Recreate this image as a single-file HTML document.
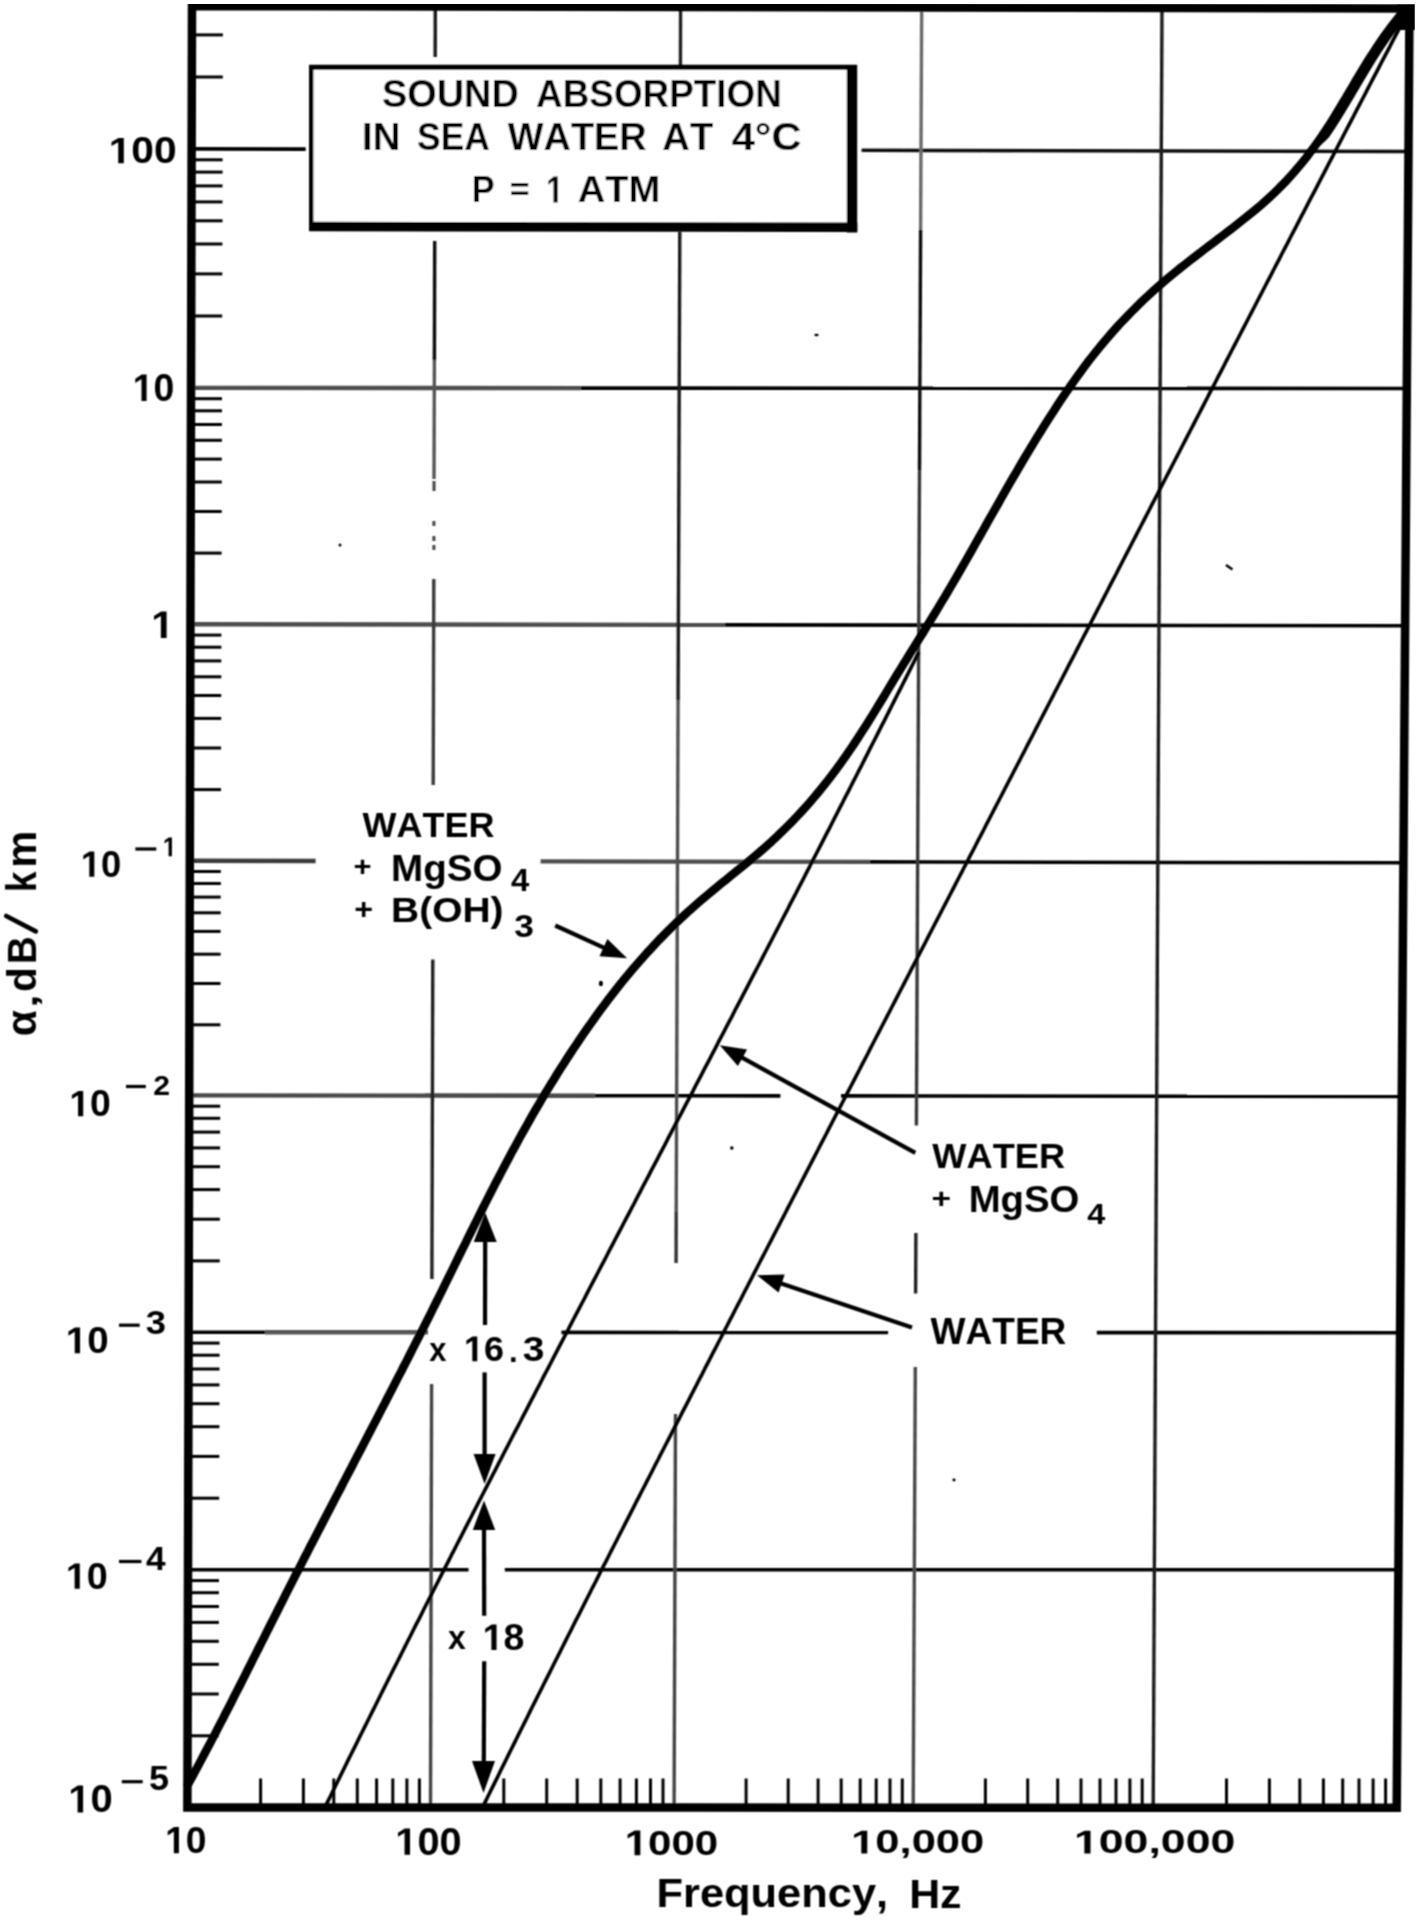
<!DOCTYPE html>
<html><head><meta charset="utf-8"><title>Sound absorption in sea water</title>
<style>html,body{margin:0;padding:0;background:#fff;overflow:hidden}svg{display:block}text{font-family:"Liberation Sans",sans-serif;font-kerning:none}</style>
</head><body>
<svg xmlns="http://www.w3.org/2000/svg" width="1418" height="1920" viewBox="0 0 1418 1920">
<defs><filter id="b" x="0" y="0" width="1" height="1"><feConvolveMatrix order="3" kernelMatrix="1 2 1 2 4 2 1 2 1" divisor="16" edgeMode="none"/></filter></defs>
<rect width="1418" height="1920" fill="#fff"/>
<g filter="url(#b)">
<line x1="191.6" y1="148.9" x2="305.7" y2="149.1" stroke="#000" stroke-width="3.6" stroke-linecap="butt"/>
<line x1="861.6" y1="150.3" x2="1408.5" y2="151.5" stroke="#111" stroke-width="3.6" stroke-linecap="butt"/>
<line x1="191.0" y1="387.9" x2="581.0" y2="388.1" stroke="#4e4e4e" stroke-width="4.4" stroke-linecap="butt"/>
<line x1="581.0" y1="388.1" x2="1406.8" y2="388.5" stroke="#000" stroke-width="3.6" stroke-linecap="butt"/>
<line x1="190.4" y1="624.3" x2="725.0" y2="624.9" stroke="#4e4e4e" stroke-width="4.4" stroke-linecap="butt"/>
<line x1="725.0" y1="624.9" x2="1405.1" y2="625.7" stroke="#000" stroke-width="3.6" stroke-linecap="butt"/>
<line x1="189.8" y1="860.8" x2="315.6" y2="861.0" stroke="#3a3a3a" stroke-width="4.4" stroke-linecap="butt"/>
<line x1="540.6" y1="861.4" x2="870.0" y2="861.9" stroke="#4e4e4e" stroke-width="4.4" stroke-linecap="butt"/>
<line x1="870.0" y1="861.9" x2="1403.4" y2="862.8" stroke="#000" stroke-width="3.6" stroke-linecap="butt"/>
<line x1="189.2" y1="1095.4" x2="595.0" y2="1095.7" stroke="#484848" stroke-width="4.4" stroke-linecap="butt"/>
<line x1="595.0" y1="1095.7" x2="780.4" y2="1095.9" stroke="#000" stroke-width="3.6" stroke-linecap="butt"/>
<line x1="841.0" y1="1095.9" x2="1401.8" y2="1096.4" stroke="#000" stroke-width="3.6" stroke-linecap="butt"/>
<line x1="188.6" y1="1332.2" x2="265.0" y2="1332.2" stroke="#000" stroke-width="3.6" stroke-linecap="butt"/>
<line x1="265.0" y1="1332.2" x2="428.0" y2="1332.3" stroke="#555" stroke-width="4.4" stroke-linecap="butt"/>
<line x1="561.4" y1="1332.4" x2="888.1" y2="1332.5" stroke="#000" stroke-width="3.6" stroke-linecap="butt"/>
<line x1="1096.8" y1="1332.6" x2="1400.1" y2="1332.8" stroke="#000" stroke-width="3.6" stroke-linecap="butt"/>
<line x1="188.0" y1="1569.7" x2="468.5" y2="1569.7" stroke="#000" stroke-width="3.6" stroke-linecap="butt"/>
<line x1="504.8" y1="1569.7" x2="1398.4" y2="1569.8" stroke="#000" stroke-width="3.6" stroke-linecap="butt"/>
<line x1="435.3" y1="6.0" x2="435.2" y2="57.0" stroke="#1a1a1a" stroke-width="3.4" stroke-linecap="butt"/>
<line x1="434.7" y1="241.0" x2="434.4" y2="360.0" stroke="#111" stroke-width="3.4" stroke-linecap="butt"/>
<line x1="434.4" y1="360.0" x2="434.0" y2="479.0" stroke="#555" stroke-width="3.4" stroke-linecap="butt"/>
<line x1="433.8" y1="579.0" x2="433.2" y2="785.0" stroke="#3a3a3a" stroke-width="3.4" stroke-linecap="butt"/>
<line x1="432.8" y1="959.4" x2="431.9" y2="1279.0" stroke="#222" stroke-width="3.4" stroke-linecap="butt"/>
<line x1="431.6" y1="1384.0" x2="430.5" y2="1807.0" stroke="#444" stroke-width="3.4" stroke-linecap="butt"/>
<line x1="680.6" y1="6.0" x2="680.4" y2="66.0" stroke="#222" stroke-width="3.4" stroke-linecap="butt"/>
<line x1="679.8" y1="232.0" x2="678.1" y2="700.0" stroke="#1a1a1a" stroke-width="3.4" stroke-linecap="butt"/>
<line x1="678.1" y1="700.0" x2="676.2" y2="1212.0" stroke="#505050" stroke-width="3.4" stroke-linecap="butt"/>
<line x1="676.2" y1="1212.0" x2="676.1" y2="1263.0" stroke="#333" stroke-width="3.4" stroke-linecap="butt"/>
<line x1="675.5" y1="1414.0" x2="674.1" y2="1807.0" stroke="#444" stroke-width="3.4" stroke-linecap="butt"/>
<line x1="921.7" y1="6.0" x2="920.6" y2="230.0" stroke="#6a6a6a" stroke-width="3.4" stroke-linecap="butt"/>
<line x1="920.6" y1="230.0" x2="919.5" y2="470.0" stroke="#111" stroke-width="3.4" stroke-linecap="butt"/>
<line x1="919.5" y1="470.0" x2="916.4" y2="1125.5" stroke="#383838" stroke-width="3.4" stroke-linecap="butt"/>
<line x1="915.9" y1="1233.0" x2="915.6" y2="1293.6" stroke="#222" stroke-width="3.4" stroke-linecap="butt"/>
<line x1="915.3" y1="1367.0" x2="913.2" y2="1807.0" stroke="#4a4a4a" stroke-width="3.4" stroke-linecap="butt"/>
<line x1="1162.0" y1="6.0" x2="1153.2" y2="1807.0" stroke="#1a1a1a" stroke-width="3.4" stroke-linecap="butt"/>
<line x1="434.0" y1="481.0" x2="434.0" y2="491.0" stroke="#444" stroke-width="3.0" stroke-linecap="butt"/>
<line x1="433.9" y1="521.0" x2="433.9" y2="526.0" stroke="#444" stroke-width="3.0" stroke-linecap="butt"/>
<line x1="433.9" y1="536.0" x2="433.9" y2="541.0" stroke="#444" stroke-width="3.0" stroke-linecap="butt"/>
<line x1="433.9" y1="545.0" x2="433.9" y2="550.0" stroke="#444" stroke-width="3.0" stroke-linecap="butt"/>
<line x1="187.6" y1="1735.8" x2="218.6" y2="1735.8" stroke="#000" stroke-width="3.0" stroke-linecap="butt"/>
<line x1="187.7" y1="1694.0" x2="218.7" y2="1694.0" stroke="#000" stroke-width="3.0" stroke-linecap="butt"/>
<line x1="187.8" y1="1664.3" x2="218.8" y2="1664.3" stroke="#000" stroke-width="3.0" stroke-linecap="butt"/>
<line x1="187.8" y1="1641.3" x2="218.8" y2="1641.3" stroke="#000" stroke-width="3.0" stroke-linecap="butt"/>
<line x1="187.9" y1="1622.4" x2="218.9" y2="1622.4" stroke="#000" stroke-width="3.0" stroke-linecap="butt"/>
<line x1="187.9" y1="1606.5" x2="218.9" y2="1606.5" stroke="#000" stroke-width="3.0" stroke-linecap="butt"/>
<line x1="187.9" y1="1592.7" x2="218.9" y2="1592.7" stroke="#000" stroke-width="3.0" stroke-linecap="butt"/>
<line x1="188.0" y1="1580.6" x2="219.0" y2="1580.6" stroke="#000" stroke-width="3.0" stroke-linecap="butt"/>
<line x1="188.2" y1="1498.2" x2="219.2" y2="1498.2" stroke="#000" stroke-width="3.0" stroke-linecap="butt"/>
<line x1="188.3" y1="1456.4" x2="219.3" y2="1456.4" stroke="#000" stroke-width="3.0" stroke-linecap="butt"/>
<line x1="188.4" y1="1426.7" x2="219.4" y2="1426.7" stroke="#000" stroke-width="3.0" stroke-linecap="butt"/>
<line x1="188.4" y1="1403.7" x2="219.4" y2="1403.7" stroke="#000" stroke-width="3.0" stroke-linecap="butt"/>
<line x1="188.5" y1="1384.9" x2="219.5" y2="1384.9" stroke="#000" stroke-width="3.0" stroke-linecap="butt"/>
<line x1="188.5" y1="1369.0" x2="219.5" y2="1369.0" stroke="#000" stroke-width="3.0" stroke-linecap="butt"/>
<line x1="188.6" y1="1355.2" x2="219.6" y2="1355.2" stroke="#000" stroke-width="3.0" stroke-linecap="butt"/>
<line x1="188.6" y1="1343.1" x2="219.6" y2="1343.1" stroke="#000" stroke-width="3.0" stroke-linecap="butt"/>
<line x1="188.8" y1="1260.9" x2="219.8" y2="1260.9" stroke="#000" stroke-width="3.0" stroke-linecap="butt"/>
<line x1="188.9" y1="1219.2" x2="219.9" y2="1219.2" stroke="#000" stroke-width="3.0" stroke-linecap="butt"/>
<line x1="189.0" y1="1189.6" x2="220.0" y2="1189.6" stroke="#000" stroke-width="3.0" stroke-linecap="butt"/>
<line x1="189.0" y1="1166.7" x2="220.0" y2="1166.7" stroke="#000" stroke-width="3.0" stroke-linecap="butt"/>
<line x1="189.1" y1="1147.9" x2="220.1" y2="1147.9" stroke="#000" stroke-width="3.0" stroke-linecap="butt"/>
<line x1="189.1" y1="1132.1" x2="220.1" y2="1132.1" stroke="#000" stroke-width="3.0" stroke-linecap="butt"/>
<line x1="189.2" y1="1118.3" x2="220.2" y2="1118.3" stroke="#000" stroke-width="3.0" stroke-linecap="butt"/>
<line x1="189.2" y1="1106.2" x2="220.2" y2="1106.2" stroke="#000" stroke-width="3.0" stroke-linecap="butt"/>
<line x1="189.4" y1="1024.8" x2="220.4" y2="1024.8" stroke="#000" stroke-width="3.0" stroke-linecap="butt"/>
<line x1="189.5" y1="983.5" x2="220.5" y2="983.5" stroke="#000" stroke-width="3.0" stroke-linecap="butt"/>
<line x1="189.6" y1="954.2" x2="220.6" y2="954.2" stroke="#000" stroke-width="3.0" stroke-linecap="butt"/>
<line x1="189.6" y1="931.4" x2="220.6" y2="931.4" stroke="#000" stroke-width="3.0" stroke-linecap="butt"/>
<line x1="189.7" y1="912.8" x2="220.7" y2="912.8" stroke="#000" stroke-width="3.0" stroke-linecap="butt"/>
<line x1="189.7" y1="897.1" x2="220.7" y2="897.1" stroke="#000" stroke-width="3.0" stroke-linecap="butt"/>
<line x1="189.8" y1="883.5" x2="220.8" y2="883.5" stroke="#000" stroke-width="3.0" stroke-linecap="butt"/>
<line x1="189.8" y1="871.5" x2="220.8" y2="871.5" stroke="#000" stroke-width="3.0" stroke-linecap="butt"/>
<line x1="190.0" y1="789.6" x2="221.0" y2="789.6" stroke="#000" stroke-width="3.0" stroke-linecap="butt"/>
<line x1="190.1" y1="748.0" x2="221.1" y2="748.0" stroke="#000" stroke-width="3.0" stroke-linecap="butt"/>
<line x1="190.2" y1="718.4" x2="221.2" y2="718.4" stroke="#000" stroke-width="3.0" stroke-linecap="butt"/>
<line x1="190.2" y1="695.5" x2="221.2" y2="695.5" stroke="#000" stroke-width="3.0" stroke-linecap="butt"/>
<line x1="190.3" y1="676.8" x2="221.3" y2="676.8" stroke="#000" stroke-width="3.0" stroke-linecap="butt"/>
<line x1="190.3" y1="660.9" x2="221.3" y2="660.9" stroke="#000" stroke-width="3.0" stroke-linecap="butt"/>
<line x1="190.4" y1="647.2" x2="221.4" y2="647.2" stroke="#000" stroke-width="3.0" stroke-linecap="butt"/>
<line x1="190.4" y1="635.1" x2="221.4" y2="635.1" stroke="#000" stroke-width="3.0" stroke-linecap="butt"/>
<line x1="190.6" y1="553.1" x2="221.6" y2="553.1" stroke="#000" stroke-width="3.0" stroke-linecap="butt"/>
<line x1="190.7" y1="511.5" x2="221.7" y2="511.5" stroke="#000" stroke-width="3.0" stroke-linecap="butt"/>
<line x1="190.8" y1="482.0" x2="221.8" y2="482.0" stroke="#000" stroke-width="3.0" stroke-linecap="butt"/>
<line x1="190.8" y1="459.1" x2="221.8" y2="459.1" stroke="#000" stroke-width="3.0" stroke-linecap="butt"/>
<line x1="190.9" y1="440.3" x2="221.9" y2="440.3" stroke="#000" stroke-width="3.0" stroke-linecap="butt"/>
<line x1="190.9" y1="424.5" x2="221.9" y2="424.5" stroke="#000" stroke-width="3.0" stroke-linecap="butt"/>
<line x1="191.0" y1="410.8" x2="222.0" y2="410.8" stroke="#000" stroke-width="3.0" stroke-linecap="butt"/>
<line x1="191.0" y1="398.7" x2="222.0" y2="398.7" stroke="#000" stroke-width="3.0" stroke-linecap="butt"/>
<line x1="191.2" y1="316.0" x2="222.2" y2="316.0" stroke="#000" stroke-width="3.0" stroke-linecap="butt"/>
<line x1="191.3" y1="273.9" x2="222.3" y2="273.9" stroke="#000" stroke-width="3.0" stroke-linecap="butt"/>
<line x1="191.4" y1="244.0" x2="222.4" y2="244.0" stroke="#000" stroke-width="3.0" stroke-linecap="butt"/>
<line x1="191.5" y1="220.8" x2="222.5" y2="220.8" stroke="#000" stroke-width="3.0" stroke-linecap="butt"/>
<line x1="191.5" y1="201.9" x2="222.5" y2="201.9" stroke="#000" stroke-width="3.0" stroke-linecap="butt"/>
<line x1="191.5" y1="185.9" x2="222.5" y2="185.9" stroke="#000" stroke-width="3.0" stroke-linecap="butt"/>
<line x1="191.6" y1="172.1" x2="222.6" y2="172.1" stroke="#000" stroke-width="3.0" stroke-linecap="butt"/>
<line x1="191.6" y1="159.8" x2="222.6" y2="159.8" stroke="#000" stroke-width="3.0" stroke-linecap="butt"/>
<line x1="191.8" y1="77.0" x2="222.8" y2="77.0" stroke="#000" stroke-width="3.0" stroke-linecap="butt"/>
<line x1="191.9" y1="34.9" x2="222.9" y2="34.9" stroke="#000" stroke-width="3.0" stroke-linecap="butt"/>
<line x1="260.6" y1="1807.5" x2="260.6" y2="1778.5" stroke="#000" stroke-width="3.0" stroke-linecap="butt"/>
<line x1="303.4" y1="1807.5" x2="303.4" y2="1778.5" stroke="#000" stroke-width="3.0" stroke-linecap="butt"/>
<line x1="333.8" y1="1807.5" x2="333.8" y2="1778.5" stroke="#000" stroke-width="3.0" stroke-linecap="butt"/>
<line x1="357.3" y1="1807.5" x2="357.3" y2="1778.5" stroke="#000" stroke-width="3.0" stroke-linecap="butt"/>
<line x1="376.6" y1="1807.5" x2="376.6" y2="1778.5" stroke="#000" stroke-width="3.0" stroke-linecap="butt"/>
<line x1="392.8" y1="1807.5" x2="392.8" y2="1778.5" stroke="#000" stroke-width="3.0" stroke-linecap="butt"/>
<line x1="406.9" y1="1807.5" x2="406.9" y2="1778.5" stroke="#000" stroke-width="3.0" stroke-linecap="butt"/>
<line x1="419.4" y1="1807.5" x2="419.4" y2="1778.5" stroke="#000" stroke-width="3.0" stroke-linecap="butt"/>
<line x1="503.8" y1="1807.5" x2="503.8" y2="1778.5" stroke="#000" stroke-width="3.0" stroke-linecap="butt"/>
<line x1="546.7" y1="1807.5" x2="546.7" y2="1778.5" stroke="#000" stroke-width="3.0" stroke-linecap="butt"/>
<line x1="577.2" y1="1807.5" x2="577.2" y2="1778.5" stroke="#000" stroke-width="3.0" stroke-linecap="butt"/>
<line x1="600.8" y1="1807.5" x2="600.8" y2="1778.5" stroke="#000" stroke-width="3.0" stroke-linecap="butt"/>
<line x1="620.1" y1="1807.5" x2="620.1" y2="1778.5" stroke="#000" stroke-width="3.0" stroke-linecap="butt"/>
<line x1="636.4" y1="1807.5" x2="636.4" y2="1778.5" stroke="#000" stroke-width="3.0" stroke-linecap="butt"/>
<line x1="650.5" y1="1807.5" x2="650.5" y2="1778.5" stroke="#000" stroke-width="3.0" stroke-linecap="butt"/>
<line x1="663.0" y1="1807.5" x2="663.0" y2="1778.5" stroke="#000" stroke-width="3.0" stroke-linecap="butt"/>
<line x1="746.1" y1="1807.5" x2="746.1" y2="1778.5" stroke="#000" stroke-width="3.0" stroke-linecap="butt"/>
<line x1="788.2" y1="1807.5" x2="788.2" y2="1778.5" stroke="#000" stroke-width="3.0" stroke-linecap="butt"/>
<line x1="818.1" y1="1807.5" x2="818.1" y2="1778.5" stroke="#000" stroke-width="3.0" stroke-linecap="butt"/>
<line x1="841.2" y1="1807.5" x2="841.2" y2="1778.5" stroke="#000" stroke-width="3.0" stroke-linecap="butt"/>
<line x1="860.2" y1="1807.5" x2="860.2" y2="1778.5" stroke="#000" stroke-width="3.0" stroke-linecap="butt"/>
<line x1="876.2" y1="1807.5" x2="876.2" y2="1778.5" stroke="#000" stroke-width="3.0" stroke-linecap="butt"/>
<line x1="890.0" y1="1807.5" x2="890.0" y2="1778.5" stroke="#000" stroke-width="3.0" stroke-linecap="butt"/>
<line x1="902.3" y1="1807.5" x2="902.3" y2="1778.5" stroke="#000" stroke-width="3.0" stroke-linecap="butt"/>
<line x1="985.4" y1="1807.5" x2="985.4" y2="1778.5" stroke="#000" stroke-width="3.0" stroke-linecap="butt"/>
<line x1="1027.7" y1="1807.5" x2="1027.7" y2="1778.5" stroke="#000" stroke-width="3.0" stroke-linecap="butt"/>
<line x1="1057.7" y1="1807.5" x2="1057.7" y2="1778.5" stroke="#000" stroke-width="3.0" stroke-linecap="butt"/>
<line x1="1081.0" y1="1807.5" x2="1081.0" y2="1778.5" stroke="#000" stroke-width="3.0" stroke-linecap="butt"/>
<line x1="1100.0" y1="1807.5" x2="1100.0" y2="1778.5" stroke="#000" stroke-width="3.0" stroke-linecap="butt"/>
<line x1="1116.0" y1="1807.5" x2="1116.0" y2="1778.5" stroke="#000" stroke-width="3.0" stroke-linecap="butt"/>
<line x1="1129.9" y1="1807.5" x2="1129.9" y2="1778.5" stroke="#000" stroke-width="3.0" stroke-linecap="butt"/>
<line x1="1142.2" y1="1807.5" x2="1142.2" y2="1778.5" stroke="#000" stroke-width="3.0" stroke-linecap="butt"/>
<line x1="1226.5" y1="1807.5" x2="1226.5" y2="1778.5" stroke="#000" stroke-width="3.0" stroke-linecap="butt"/>
<line x1="1269.4" y1="1807.5" x2="1269.4" y2="1778.5" stroke="#000" stroke-width="3.0" stroke-linecap="butt"/>
<line x1="1299.8" y1="1807.5" x2="1299.8" y2="1778.5" stroke="#000" stroke-width="3.0" stroke-linecap="butt"/>
<line x1="1323.4" y1="1807.5" x2="1323.4" y2="1778.5" stroke="#000" stroke-width="3.0" stroke-linecap="butt"/>
<line x1="1342.7" y1="1807.5" x2="1342.7" y2="1778.5" stroke="#000" stroke-width="3.0" stroke-linecap="butt"/>
<line x1="1359.0" y1="1807.5" x2="1359.0" y2="1778.5" stroke="#000" stroke-width="3.0" stroke-linecap="butt"/>
<line x1="1373.1" y1="1807.5" x2="1373.1" y2="1778.5" stroke="#000" stroke-width="3.0" stroke-linecap="butt"/>
<line x1="1385.6" y1="1807.5" x2="1385.6" y2="1778.5" stroke="#000" stroke-width="3.0" stroke-linecap="butt"/>
<polygon points="192.0,6.0 1409.5,8.5 1396.7,1807.8 187.4,1807.4" fill="none" stroke="#000" stroke-width="8.5" stroke-linejoin="miter"/>
<rect x="1397" y="4" width="18" height="26" fill="#000"/>
<rect x="311" y="67.3" width="541" height="159" fill="#fff" stroke="none"/>
<line x1="311.2" y1="65.0" x2="311.2" y2="230.0" stroke="#000" stroke-width="4.4" stroke-linecap="butt"/>
<line x1="309.0" y1="67.3" x2="857.0" y2="67.3" stroke="#000" stroke-width="4.9" stroke-linecap="butt"/>
<line x1="852.0" y1="65.0" x2="852.0" y2="232.5" stroke="#000" stroke-width="10.4" stroke-linecap="butt"/>
<line x1="309.0" y1="226.5" x2="857.3" y2="227.3" stroke="#000" stroke-width="9.5" stroke-linecap="butt"/>
<path d="M1409.4,9.0 L1406.6,14.3 L1403.9,19.6 L1401.1,25.0 L1398.3,30.3 L1395.5,35.6 L1392.7,40.9 L1390.0,46.3 L1387.2,51.6 L1384.4,56.9 L1381.6,62.2 L1378.8,67.6 L1376.1,72.9 L1373.3,78.2 L1370.5,83.5 L1367.7,88.9 L1365.0,94.2 L1362.2,99.5 L1359.4,104.8 L1356.6,110.2 L1353.9,115.5 L1351.1,120.8 L1348.3,126.2 L1345.5,131.5 L1342.8,136.8 L1340.0,142.1 L1337.2,147.5 L1334.5,152.8 L1331.7,158.1 L1328.9,163.4 L1326.1,168.8 L1323.4,174.1 L1320.6,179.4 L1317.8,184.8 L1315.1,190.1 L1312.3,195.4 L1309.5,200.7 L1306.7,206.1 L1304.0,211.4 L1301.2,216.7 L1298.4,222.1 L1295.7,227.4 L1292.9,232.7 L1290.1,238.0 L1287.4,243.4 L1284.6,248.7 L1281.8,254.0 L1279.1,259.4 L1276.3,264.7 L1273.5,270.0 L1270.8,275.4 L1268.0,280.7 L1265.2,286.0 L1262.5,291.3 L1259.7,296.7 L1256.9,302.0 L1254.2,307.3 L1251.4,312.7 L1248.6,318.0 L1245.9,323.3 L1243.1,328.7 L1240.3,334.0 L1237.6,339.3 L1234.8,344.7 L1232.0,350.0 L1229.3,355.3 L1226.5,360.7 L1223.8,366.0 L1221.0,371.3 L1218.2,376.6 L1215.5,382.0 L1212.7,387.3 L1209.9,392.6 L1207.2,398.0 L1204.4,403.3 L1201.7,408.6 L1198.9,414.0 L1196.1,419.3 L1193.4,424.6 L1190.6,430.0 L1187.8,435.3 L1185.1,440.6 L1182.3,446.0 L1179.6,451.3 L1176.8,456.6 L1174.0,462.0 L1171.3,467.3 L1168.5,472.6 L1165.7,478.0 L1163.0,483.3 L1160.2,488.6 L1157.5,494.0 L1154.7,499.3 L1151.9,504.6 L1149.2,510.0 L1146.4,515.3 L1143.7,520.6 L1140.9,526.0 L1138.1,531.3 L1135.4,536.6 L1132.6,542.0 L1129.9,547.3 L1127.1,552.6 L1124.3,558.0 L1121.6,563.3 L1118.8,568.6 L1116.1,574.0 L1113.3,579.3 L1110.5,584.6 L1107.8,590.0 L1105.0,595.3 L1102.3,600.6 L1099.5,606.0 L1096.7,611.3 L1094.0,616.6 L1091.2,622.0 L1088.5,627.3 L1085.7,632.6 L1082.9,638.0 L1080.2,643.3 L1077.4,648.6 L1074.7,654.0 L1071.9,659.3 L1069.1,664.7 L1066.4,670.0 L1063.6,675.3 L1060.9,680.7 L1058.1,686.0 L1055.3,691.3 L1052.6,696.7 L1049.8,702.0 L1047.1,707.3 L1044.3,712.7 L1041.5,718.0 L1038.8,723.3 L1036.0,728.7 L1033.3,734.0 L1030.5,739.3 L1027.7,744.7 L1025.0,750.0 L1022.2,755.3 L1019.5,760.7 L1016.7,766.0 L1013.9,771.3 L1011.2,776.7 L1008.4,782.0 L1005.6,787.3 L1002.9,792.7 L1000.1,798.0 L997.4,803.3 L994.6,808.7 L991.8,814.0 L989.1,819.3 L986.3,824.7 L983.6,830.0 L980.8,835.3 L978.0,840.7 L975.3,846.0 L972.5,851.3 L969.7,856.7 L967.0,862.0 L964.2,867.3 L961.5,872.7 L958.7,878.0 L955.9,883.3 L953.2,888.6 L950.4,894.0 L947.7,899.3 L944.9,904.6 L942.1,910.0 L939.4,915.3 L936.6,920.6 L933.8,926.0 L931.1,931.3 L928.3,936.6 L925.6,942.0 L922.8,947.3 L920.0,952.6 L917.3,958.0 L914.5,963.3 L911.7,968.6 L909.0,974.0 L906.2,979.3 L903.5,984.6 L900.7,990.0 L897.9,995.3 L895.2,1000.6 L892.4,1006.0 L889.7,1011.3 L886.9,1016.6 L884.1,1022.0 L881.4,1027.3 L878.6,1032.6 L875.8,1038.0 L873.1,1043.3 L870.3,1048.6 L867.6,1054.0 L864.8,1059.3 L862.0,1064.6 L859.3,1070.0 L856.5,1075.3 L853.8,1080.6 L851.0,1086.0 L848.2,1091.3 L845.5,1096.6 L842.7,1102.0 L840.0,1107.3 L837.2,1112.6 L834.4,1118.0 L831.7,1123.3 L828.9,1128.6 L826.2,1134.0 L823.4,1139.3 L820.6,1144.6 L817.9,1150.0 L815.1,1155.3 L812.4,1160.6 L809.6,1166.0 L806.8,1171.3 L804.1,1176.6 L801.3,1182.0 L798.6,1187.3 L795.8,1192.6 L793.0,1198.0 L790.3,1203.3 L787.5,1208.7 L784.8,1214.0 L782.0,1219.3 L779.3,1224.7 L776.5,1230.0 L773.7,1235.3 L771.0,1240.7 L768.2,1246.0 L765.5,1251.3 L762.7,1256.7 L759.9,1262.0 L757.2,1267.3 L754.4,1272.7 L751.7,1278.0 L748.9,1283.3 L746.2,1288.7 L743.4,1294.0 L740.7,1299.4 L737.9,1304.7 L735.1,1310.0 L732.4,1315.4 L729.6,1320.7 L726.9,1326.0 L724.1,1331.4 L721.4,1336.7 L718.6,1342.0 L715.9,1347.4 L713.1,1352.7 L710.3,1358.1 L707.6,1363.4 L704.8,1368.7 L702.1,1374.1 L699.3,1379.4 L696.6,1384.7 L693.8,1390.1 L691.1,1395.4 L688.3,1400.8 L685.6,1406.1 L682.8,1411.4 L680.1,1416.8 L677.3,1422.1 L674.6,1427.4 L671.8,1432.8 L669.1,1438.1 L666.3,1443.5 L663.6,1448.8 L660.8,1454.1 L658.1,1459.5 L655.3,1464.8 L652.6,1470.2 L649.9,1475.5 L647.1,1480.9 L644.4,1486.2 L641.6,1491.5 L638.9,1496.9 L636.1,1502.2 L633.4,1507.6 L630.7,1512.9 L627.9,1518.3 L625.2,1523.6 L622.5,1529.0 L619.7,1534.3 L617.0,1539.7 L614.3,1545.0 L611.5,1550.4 L608.8,1555.7 L606.1,1561.1 L603.3,1566.4 L600.6,1571.8 L597.9,1577.1 L595.2,1582.5 L592.4,1587.8 L589.7,1593.2 L587.0,1598.5 L584.3,1603.9 L581.6,1609.2 L578.9,1614.6 L576.1,1619.9 L573.4,1625.3 L570.7,1630.7 L568.0,1636.0 L565.3,1641.4 L562.6,1646.7 L559.9,1652.1 L557.2,1657.5 L554.5,1662.8 L551.8,1668.2 L549.1,1673.6 L546.4,1678.9 L543.7,1684.3 L541.0,1689.7 L538.3,1695.0 L535.6,1700.4 L532.9,1705.8 L530.2,1711.1 L527.6,1716.5 L524.9,1721.9 L522.2,1727.3 L519.5,1732.6 L516.8,1738.0 L514.2,1743.4 L511.5,1748.8 L508.8,1754.1 L506.2,1759.5 L503.5,1764.9 L500.8,1770.3 L498.2,1775.7 L495.5,1781.1 L492.9,1786.4 L490.2,1791.8 L487.5,1797.2 L484.9,1802.6 L482.2,1808.0" fill="none" stroke="#000" stroke-width="3.6" stroke-linecap="butt" stroke-linejoin="round"/>
<path d="M918.9,652.0 L916.2,657.4 L913.5,662.8 L910.8,668.1 L908.1,673.5 L905.4,678.9 L902.7,684.3 L900.0,689.6 L897.2,695.0 L894.5,700.4 L891.8,705.8 L889.1,711.1 L886.4,716.5 L883.7,721.9 L880.9,727.2 L878.2,732.6 L875.5,738.0 L872.8,743.3 L870.0,748.7 L867.3,754.1 L864.6,759.4 L861.9,764.8 L859.1,770.1 L856.4,775.5 L853.6,780.9 L850.9,786.2 L848.2,791.6 L845.4,796.9 L842.7,802.3 L839.9,807.6 L837.2,813.0 L834.4,818.4 L831.7,823.7 L829.0,829.1 L826.2,834.4 L823.4,839.8 L820.7,845.1 L817.9,850.5 L815.2,855.8 L812.4,861.2 L809.7,866.5 L806.9,871.9 L804.2,877.2 L801.4,882.6 L798.6,887.9 L795.9,893.2 L793.1,898.6 L790.3,903.9 L787.6,909.3 L784.8,914.6 L782.0,920.0 L779.3,925.3 L776.5,930.7 L773.7,936.0 L771.0,941.3 L768.2,946.7 L765.4,952.0 L762.6,957.4 L759.9,962.7 L757.1,968.0 L754.3,973.4 L751.5,978.7 L748.7,984.1 L746.0,989.4 L743.2,994.7 L740.4,1000.1 L737.6,1005.4 L734.8,1010.7 L732.1,1016.1 L729.3,1021.4 L726.5,1026.7 L723.7,1032.1 L720.9,1037.4 L718.1,1042.7 L715.4,1048.1 L712.6,1053.4 L709.8,1058.8 L707.0,1064.1 L704.2,1069.4 L701.4,1074.8 L698.6,1080.1 L695.8,1085.4 L693.1,1090.8 L690.3,1096.1 L687.5,1101.4 L684.7,1106.7 L681.9,1112.1 L679.1,1117.4 L676.3,1122.7 L673.5,1128.1 L670.7,1133.4 L667.9,1138.7 L665.2,1144.1 L662.4,1149.4 L659.6,1154.7 L656.8,1160.1 L654.0,1165.4 L651.2,1170.7 L648.4,1176.1 L645.6,1181.4 L642.8,1186.7 L640.0,1192.1 L637.2,1197.4 L634.5,1202.7 L631.7,1208.0 L628.9,1213.4 L626.1,1218.7 L623.3,1224.0 L620.5,1229.4 L617.7,1234.7 L614.9,1240.0 L612.1,1245.4 L609.3,1250.7 L606.6,1256.0 L603.8,1261.4 L601.0,1266.7 L598.2,1272.0 L595.4,1277.4 L592.6,1282.7 L589.8,1288.0 L587.0,1293.4 L584.3,1298.7 L581.5,1304.0 L578.7,1309.4 L575.9,1314.7 L573.1,1320.0 L570.3,1325.4 L567.6,1330.7 L564.8,1336.0 L562.0,1341.4 L559.2,1346.7 L556.4,1352.1 L553.6,1357.4 L550.9,1362.7 L548.1,1368.1 L545.3,1373.4 L542.5,1378.7 L539.8,1384.1 L537.0,1389.4 L534.2,1394.8 L531.4,1400.1 L528.7,1405.4 L525.9,1410.8 L523.1,1416.1 L520.4,1421.5 L517.6,1426.8 L514.8,1432.2 L512.0,1437.5 L509.3,1442.8 L506.5,1448.2 L503.7,1453.5 L501.0,1458.9 L498.2,1464.2 L495.5,1469.6 L492.7,1474.9 L489.9,1480.3 L487.2,1485.6 L484.4,1491.0 L481.7,1496.3 L478.9,1501.7 L476.2,1507.0 L473.4,1512.4 L470.7,1517.7 L467.9,1523.1 L465.2,1528.4 L462.4,1533.8 L459.7,1539.1 L456.9,1544.5 L454.2,1549.9 L451.4,1555.2 L448.7,1560.6 L446.0,1565.9 L443.2,1571.3 L440.5,1576.6 L437.8,1582.0 L435.0,1587.4 L432.3,1592.7 L429.6,1598.1 L426.8,1603.5 L424.1,1608.8 L421.4,1614.2 L418.7,1619.6 L415.9,1624.9 L413.2,1630.3 L410.5,1635.7 L407.8,1641.0 L405.1,1646.4 L402.4,1651.8 L399.7,1657.1 L397.0,1662.5 L394.2,1667.9 L391.5,1673.3 L388.8,1678.6 L386.1,1684.0 L383.4,1689.4 L380.7,1694.8 L378.0,1700.2 L375.4,1705.5 L372.7,1710.9 L370.0,1716.3 L367.3,1721.7 L364.6,1727.1 L361.9,1732.5 L359.2,1737.9 L356.6,1743.2 L353.9,1748.6 L351.2,1754.0 L348.5,1759.4 L345.9,1764.8 L343.2,1770.2 L340.5,1775.6 L337.9,1781.0 L335.2,1786.4 L332.6,1791.8 L329.9,1797.2 L327.2,1802.6 L324.6,1808.0" fill="none" stroke="#000" stroke-width="3.6" stroke-linecap="butt" stroke-linejoin="round"/>
<path d="M1310.5,152.0 L1315.0,148.0 L1319.5,144.0 L1323.8,140.0 L1327.7,136.0 L1330.4,132.0 L1333.1,128.0 L1335.6,124.0 L1338.2,120.0 L1340.6,116.0 L1343.1,112.0 L1345.5,108.0 L1347.9,104.0 L1350.3,100.0 L1352.7,96.0 L1355.0,92.0 L1357.4,88.0 L1359.7,84.0 L1362.1,80.0 L1364.5,76.0 L1366.9,72.0 L1369.3,68.0 L1371.8,64.0 L1374.2,60.0 L1376.8,56.0 L1379.3,52.0 L1382.0,48.0 L1384.7,44.0 L1387.4,40.0 L1390.2,36.0 L1393.1,32.0 L1396.1,28.0 L1399.1,24.0 L1402.2,20.0 L1405.5,16.0 L1408.8,12.0" fill="none" stroke="#000" stroke-width="3.6" stroke-linejoin="round"/>
<path d="M1406.4,8.0 L1402.5,12.6 L1398.7,17.2 L1395.0,21.9 L1391.3,26.6 L1387.7,31.4 L1384.2,36.3 L1380.8,41.2 L1377.4,46.2 L1374.1,51.2 L1370.8,56.2 L1367.6,61.3 L1364.5,66.4 L1361.4,71.5 L1358.3,76.7 L1355.2,81.8 L1352.2,87.0 L1349.1,92.2 L1346.1,97.4 L1343.0,102.5 L1339.9,107.7 L1336.8,112.8 L1333.7,117.9 L1330.5,123.0 L1327.2,128.0 L1323.9,133.1 L1320.6,138.0 L1317.1,142.9 L1313.6,147.8 L1310.0,152.6 L1306.4,157.4 L1302.6,162.1 L1298.8,166.7 L1294.9,171.3 L1290.9,175.8 L1286.9,180.2 L1282.7,184.5 L1278.5,188.8 L1274.2,193.0 L1269.8,197.1 L1265.4,201.1 L1260.9,205.1 L1256.3,209.0 L1251.7,212.8 L1247.0,216.6 L1242.3,220.3 L1237.6,224.0 L1232.9,227.7 L1228.1,231.4 L1223.4,235.0 L1218.6,238.7 L1213.8,242.3 L1209.0,245.9 L1204.2,249.5 L1199.5,253.2 L1194.7,256.8 L1189.9,260.5 L1185.2,264.2 L1180.5,267.9 L1175.8,271.7 L1171.2,275.5 L1166.6,279.3 L1162.0,283.2 L1157.5,287.1 L1153.0,291.1 L1148.6,295.2 L1144.2,299.3 L1139.9,303.4 L1135.6,307.7 L1131.4,311.9 L1127.2,316.2 L1123.0,320.6 L1118.9,324.9 L1114.9,329.4 L1110.9,333.9 L1107.0,338.4 L1103.1,343.0 L1099.3,347.6 L1095.5,352.3 L1091.8,357.0 L1088.1,361.7 L1084.5,366.5 L1080.9,371.4 L1077.4,376.2 L1073.9,381.1 L1070.5,386.0 L1067.1,390.9 L1063.7,395.9 L1060.3,400.9 L1057.0,405.9 L1053.8,410.9 L1050.5,416.0 L1047.3,421.0 L1044.1,426.1 L1040.9,431.2 L1037.7,436.3 L1034.6,441.4 L1031.5,446.5 L1028.4,451.7 L1025.3,456.8 L1022.2,462.0 L1019.2,467.2 L1016.2,472.3 L1013.1,477.5 L1010.1,482.7 L1007.1,487.9 L1004.1,493.1 L1001.2,498.3 L998.2,503.6 L995.2,508.8 L992.3,514.0 L989.3,519.2 L986.4,524.4 L983.4,529.7 L980.5,534.9 L977.5,540.1 L974.6,545.3 L971.6,550.6 L968.6,555.8 L965.7,561.0 L962.7,566.2 L959.7,571.4 L956.7,576.6 L953.6,581.8 L950.6,587.0 L947.6,592.1 L944.5,597.3 L941.4,602.4 L938.3,607.6 L935.2,612.7 L932.1,617.8 L928.9,622.9 L925.8,628.1 L922.7,633.2 L919.5,638.3 L916.3,643.4 L913.2,648.5 L910.0,653.6 L906.9,658.7 L903.7,663.8 L900.6,668.9 L897.4,674.0 L894.3,679.2 L891.2,684.3 L888.1,689.4 L885.0,694.6 L881.9,699.7 L878.8,704.8 L875.7,709.9 L872.5,715.1 L869.3,720.2 L866.2,725.2 L862.9,730.3 L859.7,735.3 L856.4,740.4 L853.1,745.4 L849.7,750.3 L846.3,755.3 L842.9,760.2 L839.4,765.1 L835.8,769.9 L832.2,774.7 L828.6,779.5 L824.9,784.2 L821.1,788.9 L817.3,793.5 L813.4,798.1 L809.5,802.7 L805.5,807.2 L801.5,811.6 L797.4,816.0 L793.3,820.3 L789.1,824.6 L784.8,828.9 L780.5,833.1 L776.2,837.2 L771.8,841.3 L767.3,845.3 L762.9,849.3 L758.3,853.2 L753.7,857.1 L749.1,860.9 L744.5,864.7 L739.8,868.5 L735.2,872.3 L730.5,876.1 L725.8,879.9 L721.2,883.6 L716.5,887.4 L711.9,891.2 L707.3,895.1 L702.7,898.9 L698.1,902.9 L693.6,906.8 L689.1,910.8 L684.7,914.9 L680.3,918.9 L676.0,923.1 L671.7,927.3 L667.4,931.5 L663.2,935.7 L659.0,940.0 L654.9,944.4 L650.8,948.8 L646.7,953.2 L642.7,957.7 L638.7,962.2 L634.8,966.7 L630.9,971.3 L627.1,975.9 L623.2,980.5 L619.5,985.2 L615.8,989.9 L612.1,994.6 L608.4,999.4 L604.8,1004.2 L601.2,1009.0 L597.7,1013.8 L594.2,1018.7 L590.7,1023.6 L587.2,1028.5 L583.8,1033.4 L580.4,1038.4 L577.1,1043.4 L573.7,1048.3 L570.4,1053.4 L567.1,1058.4 L563.9,1063.4 L560.6,1068.5 L557.4,1073.6 L554.3,1078.7 L551.1,1083.8 L548.0,1088.9 L544.9,1094.0 L541.8,1099.2 L538.8,1104.3 L535.7,1109.5 L532.7,1114.7 L529.8,1119.9 L526.8,1125.2 L523.9,1130.4 L520.9,1135.6 L518.1,1140.9 L515.2,1146.2 L512.3,1151.4 L509.5,1156.7 L506.7,1162.0 L503.9,1167.3 L501.1,1172.6 L498.3,1178.0 L495.5,1183.3 L492.8,1188.6 L490.0,1194.0 L487.3,1199.3 L484.6,1204.7 L481.9,1210.0 L479.2,1215.4 L476.5,1220.8 L473.9,1226.1 L471.2,1231.5 L468.5,1236.9 L465.9,1242.3 L463.2,1247.6 L460.5,1253.0 L457.9,1258.4 L455.2,1263.8 L452.6,1269.2 L449.9,1274.6 L447.3,1279.9 L444.6,1285.3 L442.0,1290.7 L439.3,1296.1 L436.6,1301.5 L433.9,1306.8 L431.3,1312.2 L428.6,1317.6 L425.9,1322.9 L423.2,1328.3 L420.5,1333.6 L417.7,1339.0 L415.0,1344.3 L412.3,1349.7 L409.6,1355.0 L406.9,1360.4 L404.1,1365.7 L401.4,1371.1 L398.6,1376.4 L395.9,1381.7 L393.1,1387.1 L390.4,1392.4 L387.6,1397.7 L384.9,1403.1 L382.1,1408.4 L379.4,1413.7 L376.6,1419.1 L373.8,1424.4 L371.1,1429.7 L368.3,1435.0 L365.5,1440.4 L362.8,1445.7 L360.0,1451.0 L357.2,1456.3 L354.4,1461.6 L351.7,1467.0 L348.9,1472.3 L346.1,1477.6 L343.3,1482.9 L340.6,1488.3 L337.8,1493.6 L335.0,1498.9 L332.3,1504.2 L329.5,1509.5 L326.7,1514.9 L323.9,1520.2 L321.2,1525.5 L318.4,1530.9 L315.7,1536.2 L312.9,1541.5 L310.1,1546.8 L307.4,1552.2 L304.6,1557.5 L301.9,1562.8 L299.2,1568.2 L296.4,1573.5 L293.7,1578.9 L291.0,1584.2 L288.2,1589.6 L285.5,1594.9 L282.8,1600.3 L280.1,1605.6 L277.4,1611.0 L274.7,1616.3 L272.0,1621.7 L269.3,1627.0 L266.6,1632.4 L263.9,1637.8 L261.2,1643.1 L258.5,1648.5 L255.8,1653.8 L253.1,1659.2 L250.4,1664.6 L247.7,1669.9 L245.0,1675.3 L242.3,1680.6 L239.6,1686.0 L236.8,1691.4 L234.1,1696.7 L231.4,1702.1 L228.7,1707.4 L225.9,1712.7 L223.2,1718.1 L220.4,1723.4 L217.7,1728.7 L214.9,1734.1 L212.1,1739.4 L209.3,1744.7 L206.5,1750.0 L203.7,1755.3 L200.9,1760.6 L198.1,1765.9 L195.2,1771.2 L192.4,1776.5 L189.5,1781.7 L186.6,1787.0" fill="none" stroke="#000" stroke-width="8.4" stroke-linecap="butt" stroke-linejoin="round"/>
<line x1="485.2" y1="1240.0" x2="485.0" y2="1325.0" stroke="#000" stroke-width="4.2" stroke-linecap="butt"/>
<polygon points="485.2,1212.7 496.7,1242.0 473.7,1242.0" fill="#000"/>
<line x1="484.6" y1="1372.4" x2="484.6" y2="1456.0" stroke="#000" stroke-width="4.2" stroke-linecap="butt"/>
<polygon points="484.6,1484.0 473.6,1454.0 495.6,1454.0" fill="#000"/>
<polygon points="484.0,1500.4 495.2,1530.0 472.8,1530.0" fill="#000"/>
<line x1="484.0" y1="1528.0" x2="484.2" y2="1615.8" stroke="#000" stroke-width="4.2" stroke-linecap="butt"/>
<line x1="484.2" y1="1661.2" x2="483.8" y2="1762.0" stroke="#000" stroke-width="4.2" stroke-linecap="butt"/>
<polygon points="483.5,1793.0 472.0,1761.0 495.0,1761.0" fill="#000"/>
<line x1="555.2" y1="925.5" x2="605.3" y2="948.3" stroke="#000" stroke-width="4.2" stroke-linecap="butt"/><polygon points="627.1,958.3 599.5,956.2 607.4,938.9" fill="#000"/>
<line x1="915.3" y1="1152.8" x2="740.7" y2="1056.8" stroke="#000" stroke-width="4.2" stroke-linecap="butt"/><polygon points="719.7,1045.2 747.1,1049.4 737.9,1066.1" fill="#000"/>
<line x1="912.0" y1="1327.4" x2="779.7" y2="1282.9" stroke="#000" stroke-width="4.2" stroke-linecap="butt"/><polygon points="757.0,1275.3 784.7,1274.6 778.6,1292.6" fill="#000"/>
<ellipse cx="600.9" cy="983.5" rx="2.0" ry="2.8" fill="#000"/>
<ellipse cx="731.8" cy="1148.0" rx="1.8" ry="1.8" fill="#000"/>
<ellipse cx="816.5" cy="335.0" rx="2.2" ry="1.3" fill="#000"/>
<ellipse cx="340.0" cy="545.0" rx="1.5" ry="1.5" fill="#000"/>
<ellipse cx="954.0" cy="1480.0" rx="1.6" ry="1.4" fill="#000"/>
<line x1="1226.0" y1="565.0" x2="1232.5" y2="569.5" stroke="#000" stroke-width="2.4" stroke-linecap="butt"/>
<g transform="matrix(0.37876 0 0 0.37994 382.01 107.33)"><text font-size="100" font-weight="bold" fill="#000">SOUND</text></g>
<g transform="matrix(0.36869 0 0 0.37994 536.08 107.33)"><text font-size="100" font-weight="bold" fill="#000">ABSORPTION</text></g>
<g transform="matrix(0.38465 0 0 0.39536 362.03 150.40)"><text font-size="100" font-weight="bold" fill="#000">IN</text></g>
<g transform="matrix(0.35483 0 0 0.39265 416.98 150.32)"><text font-size="100" font-weight="bold" fill="#000">SEA</text></g>
<g transform="matrix(0.37892 0 0 0.39536 507.76 150.40)"><text font-size="100" font-weight="bold" fill="#000">WATER</text></g>
<g transform="matrix(0.38231 0 0 0.39536 662.35 150.40)"><text font-size="100" font-weight="bold" fill="#000">AT</text></g>
<g transform="matrix(0.41632 0 0 0.39548 731.67 150.41)"><text font-size="100" font-weight="bold" fill="#000">4°C</text></g>
<g transform="matrix(0.34281 0 0 0.37791 471.71 202.40)"><text font-size="100" font-weight="bold" fill="#000">P</text></g>
<g transform="matrix(0.34100 0 0 0.30958 509.78 199.70)"><text font-size="100" font-weight="bold" fill="#000">=</text></g>
<g transform="matrix(0.30770 0 0 0.37791 546.30 202.40)"><text font-size="100" font-weight="bold" fill="#000"> </text><path d="M478,1170 L140,959 L140,1180 L493,1409 L759,1409 L759,0 L478,0 Z" fill="#000" transform="matrix(0.048828 0 0 -0.048828 0.000 0)"/></g>
<g transform="matrix(0.38135 0 0 0.37791 577.75 202.40)"><text font-size="100" font-weight="bold" fill="#000">ATM</text></g>
<g transform="matrix(0.35999 0 0 0.35902 362.56 837.20)"><text font-size="100" font-weight="bold" fill="#000">WATER</text></g>
<g transform="matrix(0.30909 0 0 0.27766 353.60 876.28)"><text font-size="100" font-weight="bold" fill="#000">+</text></g>
<g transform="matrix(0.38564 0 0 0.36258 391.12 880.52)"><text font-size="100" font-weight="bold" fill="#000">MgSO</text></g>
<g transform="matrix(0.32858 0 0 0.31396 510.90 891.00)"><text font-size="100" font-weight="bold" fill="#000">4</text></g>
<g transform="matrix(0.32305 0 0 0.28751 354.24 918.66)"><text font-size="100" font-weight="bold" fill="#000">+</text></g>
<g transform="matrix(0.38932 0 0 0.34759 391.10 921.89)"><text font-size="100" font-weight="bold" fill="#000">B(OH)</text></g>
<g transform="matrix(0.35407 0 0 0.31573 514.19 937.25)"><text font-size="100" font-weight="bold" fill="#000">3</text></g>
<g transform="matrix(0.36219 0 0 0.35756 932.36 1167.80)"><text font-size="100" font-weight="bold" fill="#000">WATER</text></g>
<g transform="matrix(0.33502 0 0 0.27569 931.59 1208.17)"><text font-size="100" font-weight="bold" fill="#000">+</text></g>
<g transform="matrix(0.38348 0 0 0.36697 968.63 1212.22)"><text font-size="100" font-weight="bold" fill="#000">MgSO</text></g>
<g transform="matrix(0.32484 0 0 0.30233 1087.31 1224.10)"><text font-size="100" font-weight="bold" fill="#000">4</text></g>
<g transform="matrix(0.37097 0 0 0.37501 930.46 1344.30)"><text font-size="100" font-weight="bold" fill="#000">WATER</text></g>
<g transform="matrix(0.30997 0 0 0.33502 429.19 1360.50)"><text font-size="100" font-weight="bold" fill="#000">x</text></g>
<g transform="matrix(0.35919 0 0 0.36017 463.94 1361.35)"><text font-size="100" font-weight="bold" fill="#000"> 6</text><path d="M478,1170 L140,959 L140,1180 L493,1409 L759,1409 L759,0 L478,0 Z" fill="#000" transform="matrix(0.048828 0 0 -0.048828 0.000 0)"/></g>
<g transform="matrix(0.31181 0 0 0.31559 508.88 1362.00)"><text font-size="100" font-weight="bold" fill="#000">.</text></g>
<g transform="matrix(0.39029 0 0 0.35942 522.80 1361.30)"><text font-size="100" font-weight="bold" fill="#000">3</text></g>
<g transform="matrix(0.31919 0 0 0.33692 447.88 1648.90)"><text font-size="100" font-weight="bold" fill="#000">x</text></g>
<g transform="matrix(0.37506 0 0 0.36864 482.64 1649.94)"><text font-size="100" font-weight="bold" fill="#000"> 8</text><path d="M478,1170 L140,959 L140,1180 L493,1409 L759,1409 L759,0 L478,0 Z" fill="#000" transform="matrix(0.048828 0 0 -0.048828 0.000 0)"/></g>
<g transform="matrix(0.40729 0 0 0.36864 108.72 163.34)"><text font-size="100" font-weight="bold" fill="#000"> 00</text><path d="M478,1170 L140,959 L140,1180 L493,1409 L759,1409 L759,0 L478,0 Z" fill="#000" transform="matrix(0.048828 0 0 -0.048828 0.000 0)"/></g>
<g transform="matrix(0.37390 0 0 0.38700 132.74 401.02)"><text font-size="100" font-weight="bold" fill="#000"> 0</text><path d="M478,1170 L140,959 L140,1180 L493,1409 L759,1409 L759,0 L478,0 Z" fill="#000" transform="matrix(0.048828 0 0 -0.048828 0.000 0)"/></g>
<g transform="matrix(0.41688 0 0 0.38518 151.15 638.10)"><text font-size="100" font-weight="bold" fill="#000"> </text><path d="M478,1170 L140,959 L140,1180 L493,1409 L759,1409 L759,0 L478,0 Z" fill="#000" transform="matrix(0.048828 0 0 -0.048828 0.000 0)"/></g>
<g transform="matrix(0.36393 0 0 0.36723 80.81 876.64)"><text font-size="100" font-weight="bold" fill="#000"> 0</text><path d="M478,1170 L140,959 L140,1180 L493,1409 L759,1409 L759,0 L478,0 Z" fill="#000" transform="matrix(0.048828 0 0 -0.048828 0.000 0)"/></g>
<rect x="135.4" y="847.4" width="20.9" height="3.2" fill="#000"/>
<g transform="matrix(0.24153 0 0 0.27326 162.95 856.30)"><text font-size="100" font-weight="bold" fill="#000"> </text><path d="M478,1170 L140,959 L140,1180 L493,1409 L759,1409 L759,0 L478,0 Z" fill="#000" transform="matrix(0.048828 0 0 -0.048828 0.000 0)"/></g>
<g transform="matrix(0.37390 0 0 0.36864 69.34 1116.34)"><text font-size="100" font-weight="bold" fill="#000"> 0</text><path d="M478,1170 L140,959 L140,1180 L493,1409 L759,1409 L759,0 L478,0 Z" fill="#000" transform="matrix(0.048828 0 0 -0.048828 0.000 0)"/></g>
<rect x="126.0" y="1084.9" width="19.8" height="3.2" fill="#000"/>
<g transform="matrix(0.30222 0 0 0.28357 153.15 1094.80)"><text font-size="100" font-weight="bold" fill="#000">2</text></g>
<g transform="matrix(0.38487 0 0 0.37570 65.77 1353.23)"><text font-size="100" font-weight="bold" fill="#000"> 0</text><path d="M478,1170 L140,959 L140,1180 L493,1409 L759,1409 L759,0 L478,0 Z" fill="#000" transform="matrix(0.048828 0 0 -0.048828 0.000 0)"/></g>
<rect x="119.0" y="1323.6" width="20.7" height="3.2" fill="#000"/>
<g transform="matrix(0.36413 0 0 0.33969 145.66 1334.32)"><text font-size="100" font-weight="bold" fill="#000">3</text></g>
<g transform="matrix(0.37690 0 0 0.36440 65.82 1588.64)"><text font-size="100" font-weight="bold" fill="#000"> 0</text><path d="M478,1170 L140,959 L140,1180 L493,1409 L759,1409 L759,0 L478,0 Z" fill="#000" transform="matrix(0.048828 0 0 -0.048828 0.000 0)"/></g>
<rect x="119.0" y="1559.9" width="22.4" height="3.2" fill="#000"/>
<g transform="matrix(0.35285 0 0 0.32413 145.97 1570.10)"><text font-size="100" font-weight="bold" fill="#000">4</text></g>
<g transform="matrix(0.39983 0 0 0.39124 68.27 1812.42)"><text font-size="100" font-weight="bold" fill="#000"> 0</text><path d="M478,1170 L140,959 L140,1180 L493,1409 L759,1409 L759,0 L478,0 Z" fill="#000" transform="matrix(0.048828 0 0 -0.048828 0.000 0)"/></g>
<rect x="121.8" y="1780.1" width="20.9" height="3.2" fill="#000"/>
<g transform="matrix(0.36177 0 0 0.34826 148.89 1790.46)"><text font-size="100" font-weight="bold" fill="#000">5</text></g>
<g transform="matrix(0.37191 0 0 0.37853 165.16 1853.13)"><text font-size="100" font-weight="bold" fill="#000"> 0</text><path d="M478,1170 L140,959 L140,1180 L493,1409 L759,1409 L759,0 L478,0 Z" fill="#000" transform="matrix(0.048828 0 0 -0.048828 0.000 0)"/></g>
<g transform="matrix(0.39767 0 0 0.38135 395.28 1854.63)"><text font-size="100" font-weight="bold" fill="#000"> 00</text><path d="M478,1170 L140,959 L140,1180 L493,1409 L759,1409 L759,0 L478,0 Z" fill="#000" transform="matrix(0.048828 0 0 -0.048828 0.000 0)"/></g>
<g transform="matrix(0.42028 0 0 0.35875 624.73 1855.25)"><text font-size="100" font-weight="bold" fill="#000"> 000</text><path d="M478,1170 L140,959 L140,1180 L493,1409 L759,1409 L759,0 L478,0 Z" fill="#000" transform="matrix(0.048828 0 0 -0.048828 0.000 0)"/></g>
<g transform="matrix(0.43537 0 0 0.32824 851.12 1853.42)"><text font-size="100" font-weight="bold" fill="#000"> 0,000</text><path d="M478,1170 L140,959 L140,1180 L493,1409 L759,1409 L759,0 L478,0 Z" fill="#000" transform="matrix(0.048828 0 0 -0.048828 0.000 0)"/></g>
<g transform="matrix(0.44646 0 0 0.32824 1073.95 1853.42)"><text font-size="100" font-weight="bold" fill="#000"> 00,000</text><path d="M478,1170 L140,959 L140,1180 L493,1409 L759,1409 L759,0 L478,0 Z" fill="#000" transform="matrix(0.048828 0 0 -0.048828 0.000 0)"/></g>
<g transform="matrix(0.43433 0 0 0.40536 656.49 1907.09)"><text font-size="100" font-weight="bold" fill="#000">Frequency,</text></g>
<g transform="matrix(0.42890 0 0 0.40989 909.13 1907.60)"><text font-size="100" font-weight="bold" fill="#000">Hz</text></g>
<g transform="matrix(0 -0.42446 0.43260 0 35.88 1036.26)"><text font-size="100" font-weight="bold" fill="#000">α</text></g>
<g transform="matrix(0 -0.49627 0.31609 0 36.51 1007.97)"><text font-size="100" font-weight="bold" fill="#000">,</text></g>
<g transform="matrix(0 -0.40484 0.40443 0 35.91 991.96)"><text font-size="100" font-weight="bold" fill="#000">d</text></g>
<g transform="matrix(0 -0.38369 0.41425 0 36.30 964.07)"><text font-size="100" font-weight="bold" fill="#000">B</text></g>
<g transform="matrix(0 -0.36733 0.41816 0 36.30 892.06)"><text font-size="100" font-weight="bold" fill="#000">k</text></g>
<g transform="matrix(0 -0.41774 0.42891 0 36.30 867.75)"><text font-size="100" font-weight="bold" fill="#000">m</text></g>
<line x1="35.8" y1="931.4" x2="6.2" y2="916.0" stroke="#000" stroke-width="4.6" stroke-linecap="round"/>
</g>
</svg>
</body></html>
